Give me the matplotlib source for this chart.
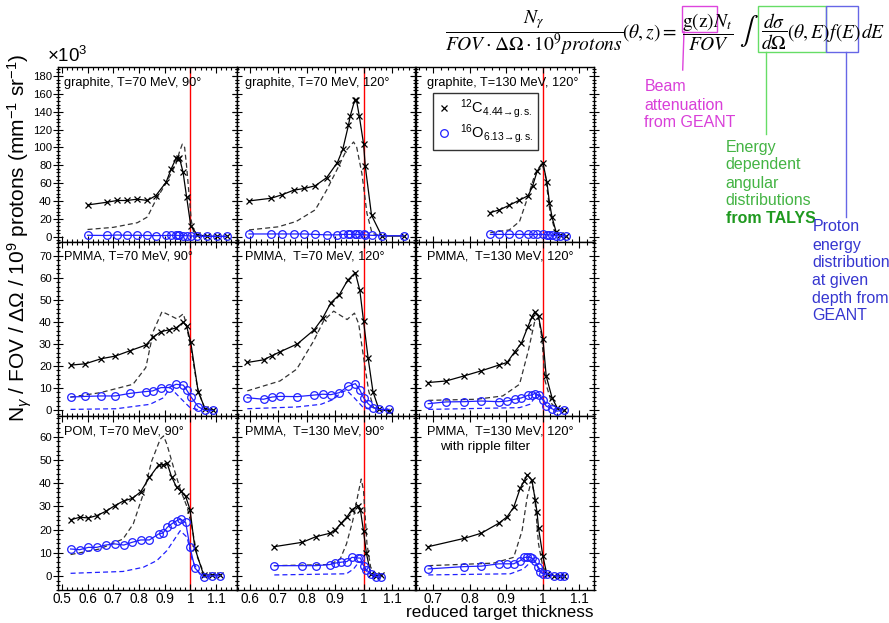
import numpy as np
import matplotlib.pyplot as plt
from matplotlib.ticker import MultipleLocator, AutoMinorLocator, FuncFormatter
from matplotlib.lines import Line2D
from matplotlib.patches import Rectangle

plt.rcParams['font.family'] = ['Liberation Sans', 'DejaVu Sans']
plt.rcParams['mathtext.fontset'] = 'custom'
plt.rcParams['mathtext.rm'] = 'Liberation Sans'
plt.rcParams['mathtext.it'] = 'Liberation Sans:italic'
plt.rcParams['mathtext.bf'] = 'Liberation Sans:bold'

# ---- data (y in units of 10^3 for row 1) ----
# graphite, 70 MeV, 90 deg
g70_90_x = [0.60, 0.675, 0.715, 0.754, 0.794, 0.833, 0.866, 0.906, 0.926, 0.945, 0.952,
            0.958, 0.972, 0.986, 1.002, 1.028, 1.065, 1.103, 1.143]
g70_90_c = [35.5, 38.5, 40.5, 40.5, 42, 40.5, 46, 61, 76, 88, 87.5, 88, 72, 44, 12, 2,
            0.5, 0.3, 0.3]
g70_90_o = [1.5, 1.3, 1.8, 1.5, 1.5, 1.3, 1.2, 1.3, 1.5, 1.5, 1.3, 1.3, 1.2, 1.0, 0.8,
            0.5, 0.3, 0.3, 0.2]
g70_90_mx = [0.60, 0.70, 0.794, 0.833, 0.866, 0.906, 0.926, 0.945, 0.958, 0.969, 0.978,
             0.986, 0.995, 1.004, 1.015]
g70_90_mc = [8, 10.4, 15.6, 22, 41, 60, 71, 82, 95, 103.6, 100, 78, 48, 18, 2]

# graphite, 70 MeV, 120 deg
g70_120_x = [0.597, 0.675, 0.714, 0.754, 0.792, 0.83, 0.87, 0.908, 0.927, 0.947, 0.953,
             0.969, 0.975, 0.985, 1.0, 1.006, 1.028, 1.064, 1.143]
g70_120_c = [40, 43, 47, 52, 54, 57, 66, 83, 98, 125, 135, 153, 153, 135, 104, 79, 24,
             0.7, 0.7]
g70_120_o = [3, 3, 3, 3, 3, 2.5, 2, 2, 2.5, 2.5, 2.5, 2.5, 2.5, 2.5, 2.5, 2, 1.5, 1, 1]
g70_120_mx = [0.597, 0.70, 0.763, 0.83, 0.87, 0.908, 0.94, 0.965, 0.976, 0.994, 1.012,
              1.03, 1.064]
g70_120_mc = [7.5, 11, 17, 30, 52, 76, 97, 106, 100, 71, 26, 3.7, 0.5]

# graphite, 130 MeV, 120 deg
g130_120_x = [0.856, 0.881, 0.907, 0.934, 0.960, 0.972, 0.984, 1.0, 1.011, 1.018, 1.025,
              1.036, 1.046, 1.064]
g130_120_c = [27, 30, 35, 40.5, 46, 57, 73, 83, 61, 38, 22, 5.5, 2, 1]
g130_120_o = [2.5, 2.5, 2.5, 2.5, 2.5, 2.5, 2.5, 2.5, 2, 2, 1.5, 1, 1, 1]
g130_120_mx = [0.856, 0.908, 0.936, 0.961, 0.979, 0.997, 1.006, 1.02, 1.034, 1.048]
g130_120_mc = [4.5, 7.5, 17, 47, 71, 82, 71, 26, 5.6, 1.5]

# PMMA, 70 MeV, 90 deg
p70_90_x = [0.534, 0.591, 0.653, 0.708, 0.767, 0.827, 0.854, 0.886, 0.916, 0.945, 0.973,
            0.986, 1.002, 1.031, 1.058, 1.088]
p70_90_c = [20.4, 21, 23.3, 24.5, 27, 29.5, 33, 35.6, 36.4, 37.3, 39.9, 38, 30.7, 8.2,
            0.6, 0]
p70_90_o = [5.9, 6.2, 6.4, 6.4, 7.6, 8.4, 8.7, 10.2, 10.2, 11.7, 11.3, 9.1, 6.1, 1.5,
            -0.2, -0.2]
p70_90_mx = [0.534, 0.65, 0.777, 0.827, 0.857, 0.890, 0.922, 0.948, 0.973, 0.982, 1.002,
             1.028, 1.054]
p70_90_mc = [5.9, 7.9, 11.7, 19.3, 36, 44.7, 42.9, 41.4, 43.7, 40, 28.5, 10.2, 1.1]
p70_90_mox = [0.534, 0.712, 0.843, 0.896, 0.922, 0.96, 1.0, 1.03]
p70_90_mo = [0.3, 0.6, 2.6, 5.6, 10.2, 5.6, 1, 0.2]

# PMMA, 70 MeV, 120 deg
p70_120_x = [0.591, 0.648, 0.678, 0.707, 0.767, 0.826, 0.856, 0.885, 0.915, 0.944, 0.971,
             0.987, 1.0, 1.016, 1.033, 1.054, 1.09]
p70_120_c = [21.6, 22.8, 24.7, 26.5, 30, 36.4, 41.7, 48.7, 52.4, 58.9, 62.4, 54.3, 40.3,
             23.6, 8.4, 0.3, -0.5]
p70_120_o = [5.6, 4.9, 5.9, 6.2, 6.1, 6.8, 7.2, 7.0, 7.9, 10.7, 12, 9.1, 5.6, 2.9, 1.1,
             0.3, 0.3]
p70_120_mx = [0.591, 0.706, 0.765, 0.825, 0.86, 0.895, 0.942, 0.968, 0.983, 1.0, 1.018,
              1.035, 1.06]
p70_120_mc = [8.7, 13.2, 18.6, 31.5, 40.6, 44.9, 41.1, 44, 39.1, 23.9, 8.7, 1.1, 0.2]
p70_120_mox = [0.591, 0.765, 0.85, 0.895, 0.92, 0.94, 0.967, 1.0, 1.03]
p70_120_mo = [0.6, 1.4, 2.6, 4.9, 7.9, 9, 5.6, 1, 0.2]

# PMMA, 130 MeV, 120 deg
p130_120_x = [0.686, 0.735, 0.784, 0.831, 0.879, 0.902, 0.923, 0.941, 0.959, 0.970, 0.977,
              0.988, 1.0, 1.009, 1.025, 1.039, 1.057]
p130_120_c = [12.5, 13.2, 15.5, 17.8, 20.4, 21.6, 26.5, 30.3, 37.9, 42.2, 44.4, 42.5, 32.3,
              15.5, 5.6, 1.1, 0]
p130_120_o = [2.9, 3.7, 3.8, 4.1, 3.8, 4.1, 4.9, 5.5, 6.7, 6.8, 7.5, 6.8, 4.6, 1.8, 0.6,
              -0.5, 0.2]
p130_120_mx = [0.686, 0.818, 0.89, 0.936, 0.96, 0.978, 0.988, 0.997, 1.006, 1.025, 1.045]
p130_120_mc = [4.4, 4.9, 6.4, 11.7, 26.9, 40.6, 41.9, 33, 13.2, 2.6, 0.3]
p130_120_mox = [0.686, 0.936, 0.964, 0.982, 0.992, 1.01, 1.03]
p130_120_mo = [0.3, 1.1, 2.6, 6.4, 7.0, 2.6, 0.3]

# POM, 70 MeV, 90 deg
pom70_90_x = [0.534, 0.570, 0.603, 0.636, 0.670, 0.706, 0.741, 0.774, 0.807, 0.841, 0.877,
              0.894, 0.910, 0.927, 0.947, 0.962, 0.982, 0.999, 1.018, 1.052, 1.084, 1.117]
pom70_90_c = [24.2, 25.3, 25, 26, 27.8, 30.3, 32.4, 33.4, 36.3, 42.5, 47.9, 47.9, 48.6,
              42.8, 38.2, 36.7, 34.3, 28.6, 11.9, 0.4, 0.4, 0.4]
pom70_90_o = [11.6, 11.3, 12.3, 12.3, 13.3, 13.8, 13.3, 14.5, 15.5, 15.5, 18.1, 18.5, 20.9,
              22.4, 23.8, 24.5, 23.1, 12.3, 3.4, -0.6, 0, 0]
pom70_90_mx = [0.534, 0.647, 0.738, 0.778, 0.817, 0.85, 0.883, 0.896, 0.909, 0.935, 0.961,
               0.988, 1.004, 1.028, 1.054]
pom70_90_mc = [9.2, 11.6, 15.9, 22.4, 35.3, 49.6, 59, 60.4, 56.8, 46.8, 37.4, 29.6, 22.4,
               8, 0.9]
pom70_90_mox = [0.534, 0.738, 0.817, 0.870, 0.909, 0.935, 0.961, 0.988, 1.008, 1.04]
pom70_90_mo = [1.1, 1.9, 3.7, 6.6, 10.9, 15.2, 19.5, 16.6, 6.6, 0.1]

# PMMA, 130 MeV, 90 deg
p130_90_x = [0.686, 0.785, 0.832, 0.882, 0.9, 0.921, 0.942, 0.959, 0.981, 0.989, 1.0, 1.01,
             1.025, 1.045, 1.06]
p130_90_c = [12.6, 14.5, 16.9, 18.4, 19.8, 22.7, 25.5, 28.6, 30.3, 28.4, 19.2, 9.8, 0.9,
             -0.1, 0.4]
p130_90_o = [4.4, 4.4, 4.4, 4.9, 5.5, 5.9, 6.2, 8, 7.7, 7.7, 4.4, 2.6, 0.9, -0.3, -0.6]
p130_90_mx = [0.686, 0.882, 0.918, 0.94, 0.962, 0.983, 0.992, 1.0, 1.012, 1.025, 1.05]
p130_90_mc = [4.4, 4.9, 7.3, 13.8, 23.8, 36.7, 41.8, 36.7, 13.8, 3.7, 0.1]
p130_90_mox = [0.686, 0.94, 0.965, 0.983, 0.995, 1.012, 1.035]
p130_90_mo = [0.4, 0.9, 3, 5.9, 5.5, 1.6, 0]

# PMMA, 130 MeV, 120 deg, ripple filter
rip_x = [0.686, 0.785, 0.831, 0.879, 0.902, 0.920, 0.938, 0.949, 0.957, 0.970, 0.979,
         0.984, 0.988, 1.0, 1.011, 1.03, 1.048, 1.057]
rip_c = [12.6, 16.2, 18.4, 22.7, 25.5, 29.6, 37.9, 41, 43.6, 41.3, 32.7, 27.4, 20.7, 8.5,
         0.6, 0.1, 0.1, 0.1]
rip_xo = [0.686, 0.785, 0.831, 0.879, 0.902, 0.920, 0.938, 0.949, 0.957, 0.964, 0.970,
          0.979, 0.986, 0.993, 1.0, 1.011, 1.03, 1.048, 1.057]
rip_o = [3, 4, 4.2, 5.2, 5.2, 5.2, 6.6, 8, 8, 8, 7.7, 6.3, 3.7, 1.6, 0.9, 0.9, 0.1, -0.1,
         -0.1]
rip_mx = [0.686, 0.865, 0.92, 0.943, 0.957, 0.968, 0.977, 0.988, 1.0, 1.02]
rip_mc = [4.4, 5.5, 8, 19.5, 33.9, 41, 35.3, 13.8, 3.7, 0.1]
rip_mox = [0.686, 0.911, 0.947, 0.966, 0.977, 0.988, 1.0, 1.02]
rip_mo = [0.4, 0.9, 3, 5.9, 5.9, 3.7, 0.9, 0]

panel_titles = [
    ["graphite, T=70 MeV, 90°", "graphite, T=70 MeV, 120°", "graphite, T=130 MeV, 120°"],
    ["PMMA, T=70 MeV, 90°", "PMMA,  T=70 MeV, 120°", "PMMA,  T=130 MeV, 120°"],
    ["POM, T=70 MeV, 90°", "PMMA,  T=130 MeV, 90°", "PMMA,  T=130 MeV, 120°"],
]

panels = [
    [(g70_90_x, g70_90_c, g70_90_x, g70_90_o, g70_90_mx, g70_90_mc, None, None),
     (g70_120_x, g70_120_c, g70_120_x, g70_120_o, g70_120_mx, g70_120_mc, None, None),
     (g130_120_x, g130_120_c, g130_120_x, g130_120_o, g130_120_mx, g130_120_mc, None, None)],
    [(p70_90_x, p70_90_c, p70_90_x, p70_90_o, p70_90_mx, p70_90_mc, p70_90_mox, p70_90_mo),
     (p70_120_x, p70_120_c, p70_120_x, p70_120_o, p70_120_mx, p70_120_mc, p70_120_mox, p70_120_mo),
     (p130_120_x, p130_120_c, p130_120_x, p130_120_o, p130_120_mx, p130_120_mc, p130_120_mox, p130_120_mo)],
    [(pom70_90_x, pom70_90_c, pom70_90_x, pom70_90_o, pom70_90_mx, pom70_90_mc, pom70_90_mox, pom70_90_mo),
     (p130_90_x, p130_90_c, p130_90_x, p130_90_o, p130_90_mx, p130_90_mc, p130_90_mox, p130_90_mo),
     (rip_x, rip_c, rip_xo, rip_o, rip_mx, rip_mc, rip_mox, rip_mo)],
]

# ---- layout (pixel based) ----
W, H = 889, 623
def fx(px):
    return px / W
def fy(py):
    return 1 - py / H

col_left = [58, 236.5, 415.5]
col_w = 178.5
row_top = [67, 242, 416]
row_h = [175, 174, 174]
xlims = [(0.485, 1.18), (0.553, 1.181), (0.651, 1.14)]
ylims = [(-6, 190), (-2.7, 76.3), (-6.1, 69)]
ymajor = [20, 10, 10]
title_px = [63.5, 244.5, 427]
title_py = [83, 256, 431.5]

BLUE = '#2020ff'

fig = plt.figure(figsize=(W / 100, H / 100), dpi=100)

axes = [[None] * 3 for _ in range(3)]
for r in range(3):
    for c in range(3):
        ax = fig.add_axes([fx(col_left[c]), fy(row_top[r] + row_h[r]), col_w / W, row_h[r] / H])
        axes[r][c] = ax
        xc, yc, xo, yo, mx, mc, mox, mo = panels[r][c]
        ax.axvline(1.0, color='red', lw=1.0, zorder=1)
        ax.plot(mx, mc, color='#333333', lw=0.9, ls=(0, (4, 2.5)), zorder=2)
        if mox is not None:
            ax.plot(mox, mo, color=BLUE, lw=0.9, ls=(0, (4, 2.5)), zorder=2)
        ax.plot(xc, yc, color='black', lw=0.9, marker='x', ms=5, mew=0.9, zorder=3)
        ax.plot(xo, yo, color=BLUE, lw=0.9, marker='o', ms=5.5, mfc='none', mec=BLUE,
                mew=0.9, zorder=4)
        ax.set_xlim(*xlims[c])
        ax.set_ylim(*ylims[r])
        ax.xaxis.set_major_locator(MultipleLocator(0.1))
        ax.xaxis.set_minor_locator(AutoMinorLocator(5))
        ax.yaxis.set_major_locator(MultipleLocator(ymajor[r]))
        ax.yaxis.set_minor_locator(AutoMinorLocator(5))
        ax.xaxis.set_major_formatter(FuncFormatter(lambda v, _: '%g' % round(v, 2)))
        ax.tick_params(which='both', top=True, right=True,
                       labelbottom=(r == 2), labelleft=(c == 0), width=0.8)
        ax.tick_params(axis='y', which='both', direction='inout')
        ax.tick_params(axis='x', which='both', direction='in')
        ax.tick_params(axis='y', which='major', length=7)
        ax.tick_params(axis='y', which='minor', length=3.5)
        ax.tick_params(axis='x', which='major', length=4.5)
        ax.tick_params(axis='x', which='minor', length=2.5)
        ax.tick_params(axis='x', labelsize=9.8, pad=1.5)
        ax.tick_params(axis='y', labelsize=8.2, pad=1)
        for s in ax.spines.values():
            s.set_linewidth(1.0)
        fig.text(fx(title_px[c]), fy(title_py[r]), panel_titles[r][c], fontsize=9.2,
                 ha='left', va='center')

fig.text(fx(440), fy(447), "with ripple filter", fontsize=9.7, ha='left', va='center')

# legend in graphite 130 MeV panel
leg_handles = [Line2D([], [], color='black', marker='x', ls='none', ms=5, mew=0.9),
               Line2D([], [], color=BLUE, marker='o', ls='none', ms=5.5, mfc='none', mew=0.9)]
leg_labels = [r'$^{12}\mathrm{C}_{4.44\!\rightarrow\!\mathrm{g.s.}}$',
              r'$^{16}\mathrm{O}_{6.13\!\rightarrow\!\mathrm{g.s.}}$']
leg = axes[0][2].legend(leg_handles, leg_labels, loc='upper left',
                        bbox_to_anchor=((432.7 - 415.5) / col_w, 1 - (93 - 67) / 175),
                        borderaxespad=0, frameon=True, fancybox=False, fontsize=10.5,
                        handlelength=1.0, handletextpad=0.6, labelspacing=0.15,
                        borderpad=0.3)
leg.get_frame().set_edgecolor('black')
leg.get_frame().set_linewidth(1.0)

# axis labels
fig.text(fx(20), fy(238),
         r'N$_{\gamma}$ / FOV / $\Delta\Omega$ / 10$^{9}$ protons (mm$^{-1}$ sr$^{-1}$)',
         rotation=90, ha='center', va='center', fontsize=15)
fig.text(fx(594), fy(613), 'reduced target thickness', ha='right', va='center', fontsize=12.3)
fig.text(fx(47), fy(56), r'$\times$10$^{3}$', ha='left', va='center', fontsize=13.5)

# ---- formula and annotations ----
mk = dict(math_fontfamily='stix', fontsize=14, color='black')
fig.text(fx(534), fy(33), r'$\dfrac{N_\gamma}{FOV\cdot\Delta\Omega\cdot10^9protons}$',
         ha='center', va='center', **mk)
fig.text(fx(622), fy(33), r'$(\theta,z)=$', ha='left', va='center', **mk)
fig.text(fx(708), fy(32), r'$\dfrac{\mathrm{g(z)}N_t}{FOV}$', ha='center', va='center', **mk)
fig.text(fx(749), fy(31), r'$\int$', ha='center', va='center', math_fontfamily='stix',
         fontsize=20)
fig.text(fx(774), fy(32), r'$\dfrac{d\sigma}{d\Omega}$', ha='center', va='center', **mk)
fig.text(fx(787), fy(33), r'$(\theta,E)$', ha='left', va='center', **mk)
fig.text(fx(827), fy(33), r'$f(E)$', ha='left', va='center', **mk)
fig.text(fx(861), fy(33), r'$dE$', ha='left', va='center', **mk)

MAG, GRN, BLU = '#dd44dd', '#66dd66', '#6666e6'
boxes = [(681.7, 6, 716.7, 31.7, MAG), (758.3, 6, 826, 51.7, GRN), (826, 6, 858.3, 51.7, BLU)]
for x0, y0, x1, y1, col in boxes:
    fig.add_artist(Rectangle((fx(x0), fy(y1)), (x1 - x0) / W, (y1 - y0) / H,
                             transform=fig.transFigure, fill=False, edgecolor=col, lw=1.0))
fig.add_artist(Line2D([fx(684), fx(682.7)], [fy(31.7), fy(70)], transform=fig.transFigure,
                      color=MAG, lw=1.0))
fig.add_artist(Line2D([fx(766), fx(766)], [fy(51.7), fy(134)], transform=fig.transFigure,
                      color=GRN, lw=1.0))
fig.add_artist(Line2D([fx(846), fx(846)], [fy(51.7), fy(216.7)], transform=fig.transFigure,
                      color=BLU, lw=1.0))

beam_lines = ["Beam", "attenuation", "from GEANT"]
for t, py in zip(beam_lines, [86.7, 105, 122.7]):
    fig.text(fx(644.3), fy(py), t, color='#d93fd9', fontsize=11.5, ha='left', va='center')
talys_lines = ["Energy", "dependent", "angular", "distributions"]
for t, py in zip(talys_lines, [147.3, 165, 183.3, 200.7]):
    fig.text(fx(725.7), fy(py), t, color='#44b444', fontsize=11.5, ha='left', va='center')
fig.text(fx(725.7), fy(219), "from TALYS", color='#1f991f', fontsize=11.5,
         fontweight='bold', ha='left', va='center')
proton_lines = ["Proton", "energy", "distribution", "at given", "depth from", "GEANT"]
for t, py in zip(proton_lines, [226.7, 245, 262.7, 280.7, 298.3, 315.7]):
    fig.text(fx(812.3), fy(py), t, color='#3636d0', fontsize=11.5, ha='left', va='center')

fig.savefig('out.png', dpi=100)
